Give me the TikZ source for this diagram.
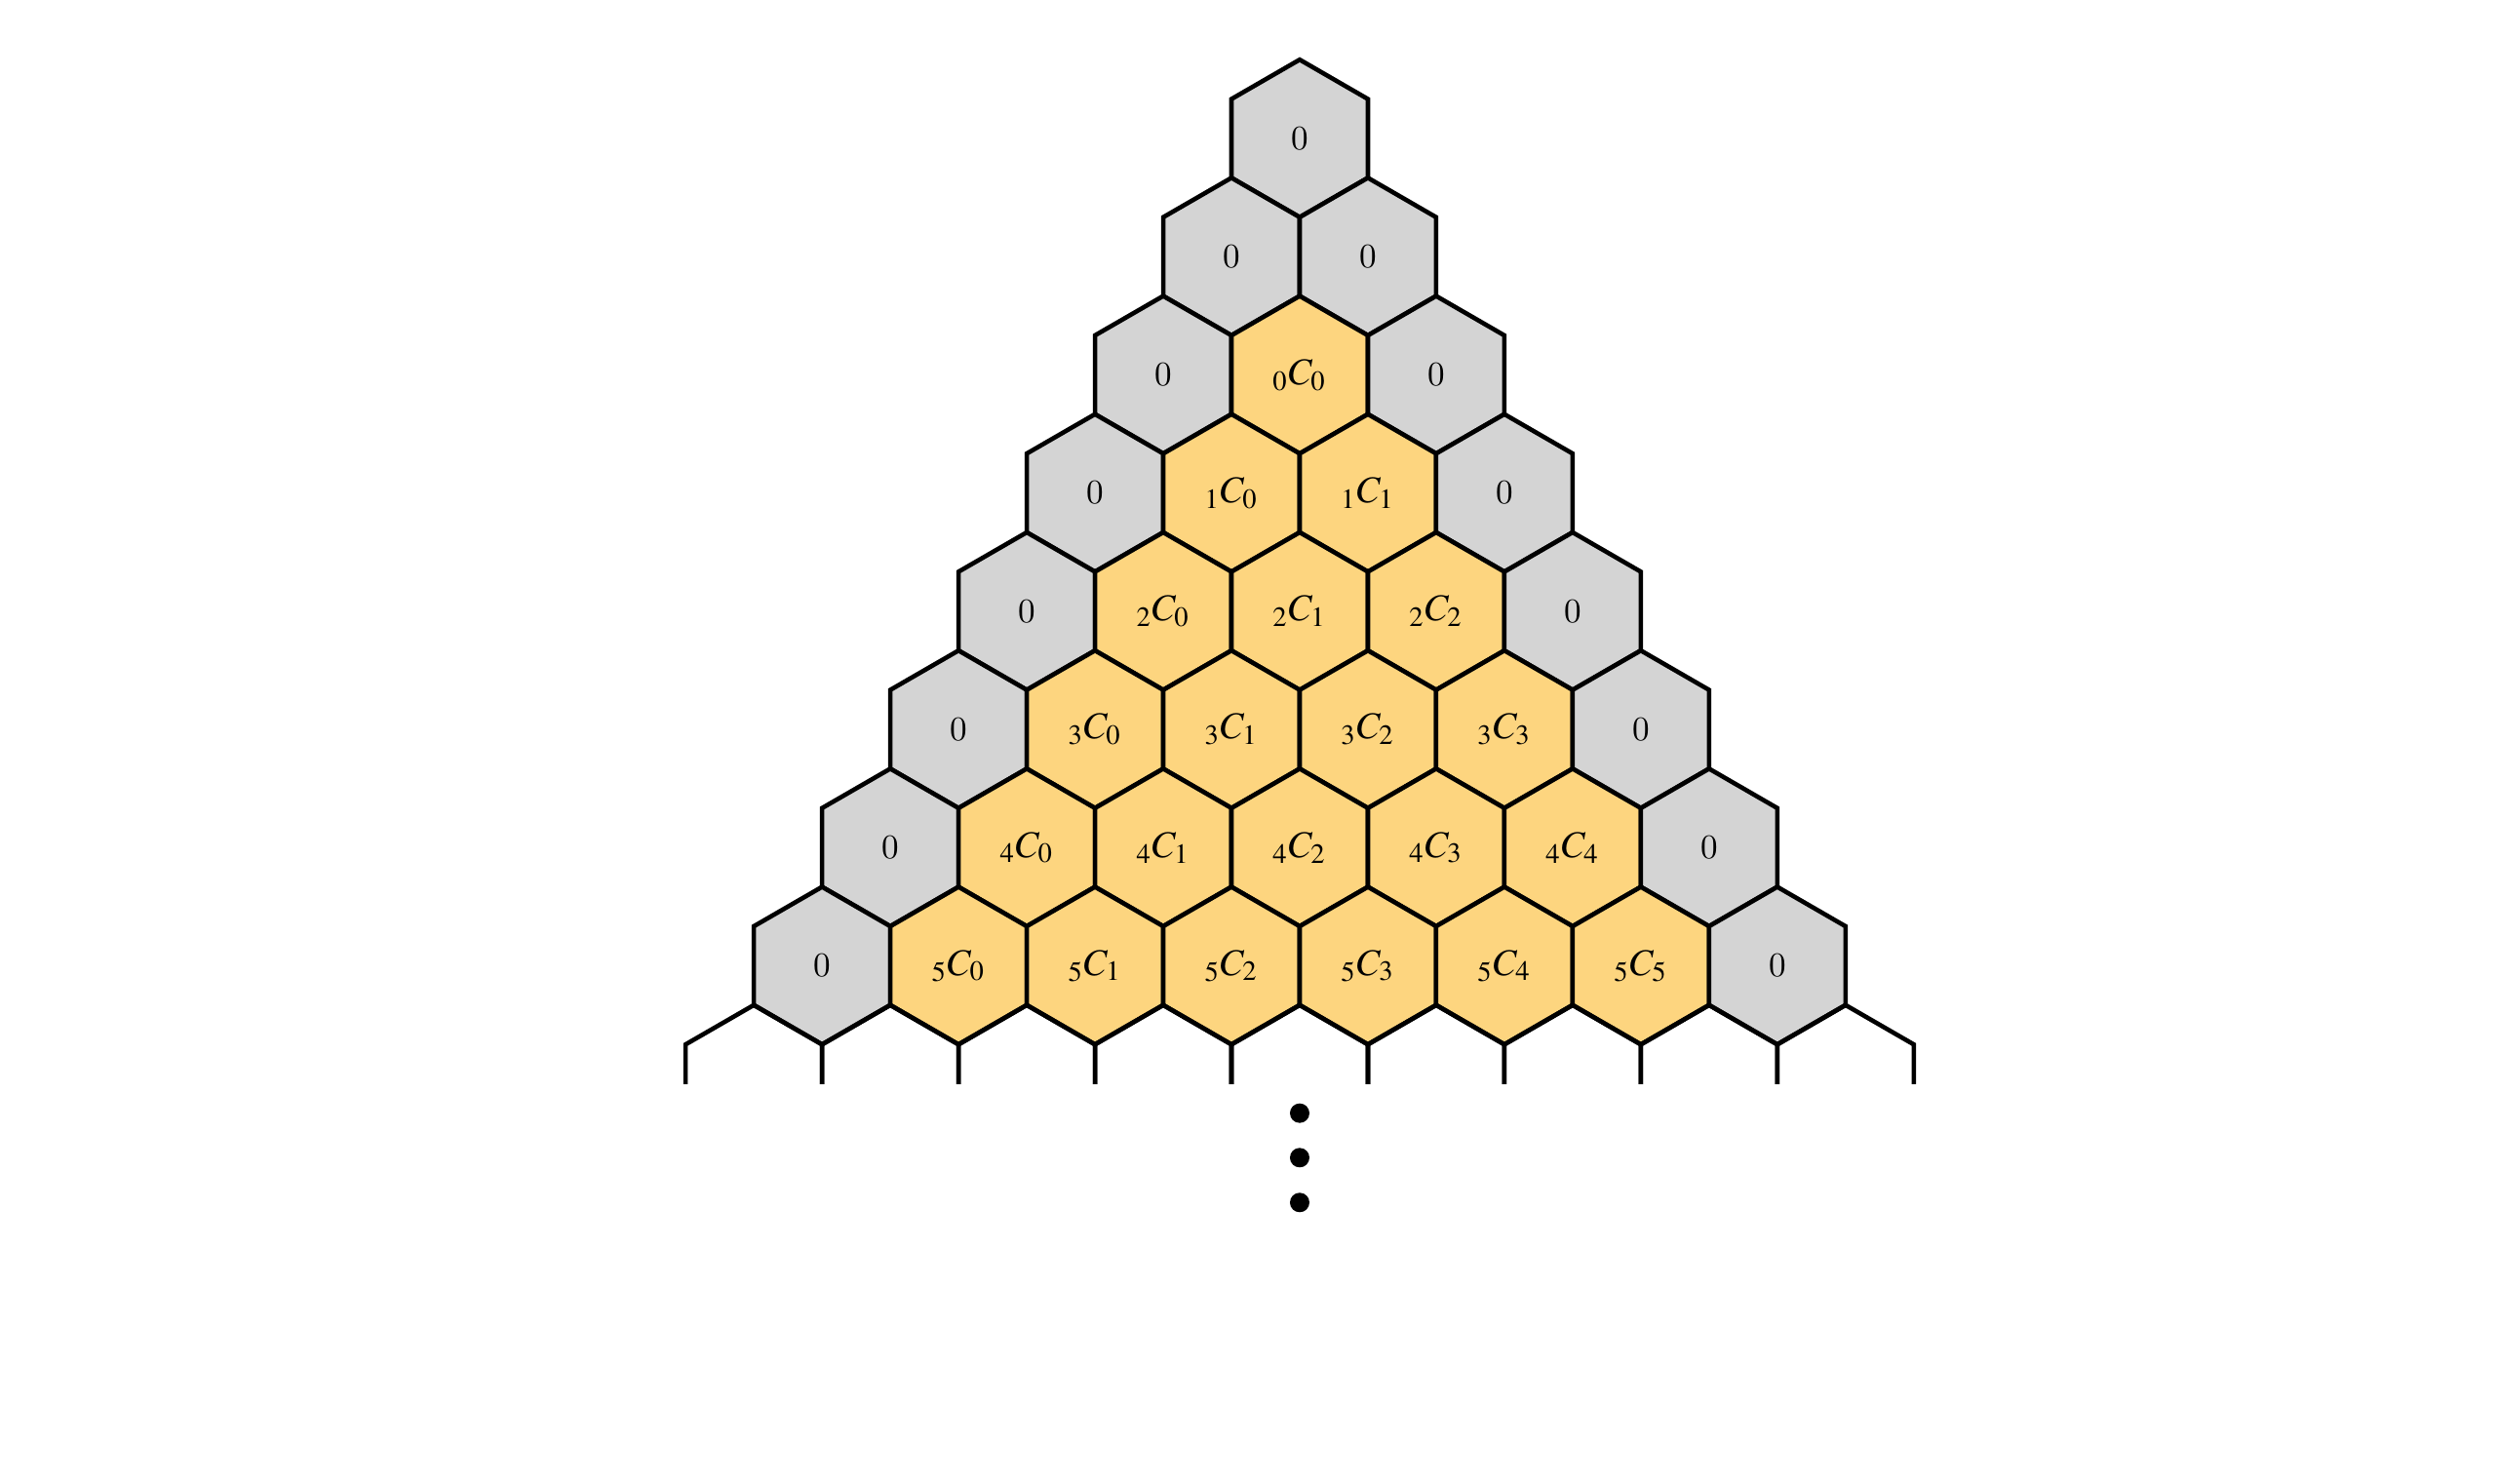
\documentclass[tikz,border=0pt]{standalone}
\usepackage{mathptmx}
\usetikzlibrary{shapes.geometric}
\definecolor{hexgray}{RGB}{212,212,212}
\definecolor{hexgold}{RGB}{253,213,127}
\begin{document}
\begin{tikzpicture}[
	font=\fontsize{10}{12}\selectfont,
	line width=1.3pt,
	hex/.style={regular polygon,regular polygon sides=6,regular polygon rotate=30,
		minimum size=16.16mm,inner sep=0pt,outer sep=0pt,draw=black},
	zero/.style={hex,fill=hexgray},
	comb/.style={hex,fill=hexgold,font=\fontsize{11}{13}\selectfont},
	stub/.style={hex},
	dot/.style={circle,fill=black,inner sep=0pt,minimum size=2mm},
	]
\useasboundingbox (-13.33,1.42) rectangle (12.29,-13.80);
\foreach \r in {0,...,7} {
	\foreach \k in {0,...,\r} {
		\pgfmathtruncatemacro{\n}{\r-2}
		\pgfmathtruncatemacro{\m}{\k-1}
		\pgfmathtruncatemacro{\edge}{or(or(\r<2,\k==0),\k==\r)}
		\ifnum\edge=1
			\node [zero] (h-\r-\k) at ({(2*\k-\r)*0.6998},{-\r*1.212}) {0};
		\else
			\node [comb] (h-\r-\k) at ({(2*\k-\r)*0.6998},{-\r*1.212}) {${}_{\n}C_{\m}$};
		\fi
	}
}
\begin{scope}
	\clip (-7,-8.4) rectangle (7,-9.696);
	\foreach \k in {0,...,8}
		\node [stub] (s-\k) at ({(2*\k-8)*0.6998},{-8*1.212}) {};
\end{scope}
\node [dot] (d-1) at (0,-9.997) {};
\node [dot] (d-2) at (0,-10.453) {};
\node [dot] (d-3) at (0,-10.913) {};
\end{tikzpicture}
\end{document}
